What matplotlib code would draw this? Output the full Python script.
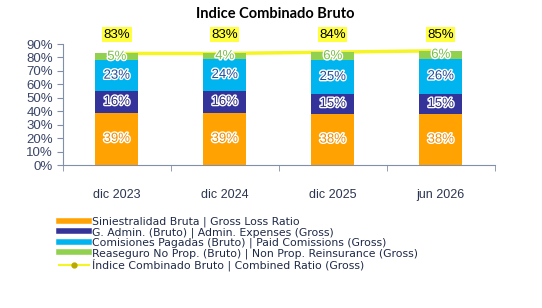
import matplotlib
matplotlib.use("Agg")
import matplotlib.pyplot as plt
import matplotlib.patheffects as pe
from matplotlib.lines import Line2D
import numpy as np

categories = ["dic 2023", "dic 2024", "dic 2025", "jun 2026"]
loss_ratio = [39, 39, 38, 38]
admin_exp = [16, 16, 15, 15]
commissions = [23, 24, 25, 26]
reinsurance = [5, 4, 6, 6]
combined = [83, 83, 84, 85]

series_names = [
    "Siniestralidad Bruta | Gross Loss Ratio",
    "G. Admin. (Bruto) | Admin. Expenses (Gross)",
    "Comisiones Pagadas (Bruto) | Paid Comissions (Gross)",
    "Reaseguro No Prop. (Bruto) | Non Prop. Reinsurance (Gross)",
]
line_name = "Índice Combinado Bruto | Combined Ratio (Gross)"
title = "Indice Combinado Bruto"

colors = ["#FFA202", "#333399", "#00B4F0", "#92D050"]
text_colors = ["#F08C00", "#2A2A80", "#1F4E9A", "#7DBE4A"]
line_color = "#F5F525"

plt.rcParams["font.family"] = ["Liberation Sans", "DejaVu Sans"]

fig = plt.figure(figsize=(5.42, 3.08), dpi=100)
ax = fig.add_axes([0.116, 0.464, 0.797, 0.393])

x = np.arange(len(categories))
w = 0.4
bottoms = np.zeros(len(categories))
all_series = [loss_ratio, admin_exp, commissions, reinsurance]

ax.plot(x, np.array(combined) / 100, color=line_color, lw=2.5, zorder=1)

for vals, c, tc in zip(all_series, colors, text_colors):
    v = np.array(vals) / 100
    ax.bar(x, v, w, bottom=bottoms, color=c, zorder=2)
    for xi, b, vi, raw in zip(x, bottoms, v, vals):
        ax.text(xi, b + vi / 2, f"{raw}%", ha="center", va="center",
                fontsize=9.5, color=tc, zorder=4,
                path_effects=[pe.withStroke(linewidth=2, foreground="white")])
    bottoms = bottoms + v

for xi, cv in zip(x, combined):
    ax.text(xi, 0.97, f"{cv}%", ha="center", va="center", fontsize=9.5,
            color="black", zorder=5,
            bbox=dict(boxstyle="square,pad=0.1", fc="#FFFF40", ec="none"))

ax.set_xlim(-0.5, 3.5)
ax.set_ylim(0, 0.9)
ax.set_yticks(np.arange(0, 0.91, 0.1))
ax.set_yticklabels([f"{int(round(t*100))}%" for t in np.arange(0, 0.91, 0.1)])
ax.set_xticks(x)
ax.set_xticklabels(categories)
ax.set_xticks(np.arange(-0.5, 3.6, 1), minor=True)
ax.tick_params(axis="x", which="major", length=0, pad=17, labelsize=9,
               labelcolor="#2B3550")
ax.tick_params(axis="x", which="minor", length=4, color="#8090A8", direction="out")
ax.tick_params(axis="y", length=4, color="#8090A8", labelsize=9.5,
               labelcolor="#3A4668", pad=3)
for s in ["top", "right"]:
    ax.spines[s].set_visible(False)
ax.spines["left"].set_color("#8090A8")
ax.spines["bottom"].set_color("#8090A8")

fig.text(0.507, 0.955, title, ha="center", va="center", fontsize=10.5,
         fontweight="bold", family=["Lato", "DejaVu Sans"])

handles = [Line2D([0], [0], color=c, lw=4) for c in colors]
handles.append(Line2D([0], [0], color=line_color, lw=1.5, marker="o",
                      markersize=3.5, markerfacecolor="#B8A800",
                      markeredgecolor="#B8A800"))
leg = fig.legend(handles, series_names + [line_name], loc="upper left",
                 bbox_to_anchor=(0.108, 0.297), frameon=False,
                 prop={"family": ["DejaVu Sans"], "size": 7.8},
                 handlelength=2.8, handletextpad=0.25, labelspacing=0.0,
                 borderaxespad=0, borderpad=0)
for t in leg.get_texts():
    t.set_color("#1F2A48")

fig.savefig("out.png", dpi=100)
